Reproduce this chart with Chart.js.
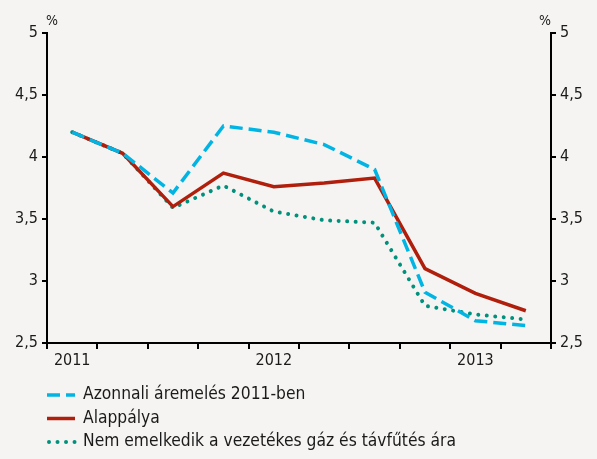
<!DOCTYPE html>
<html>
<head>
<meta charset="utf-8">
<script src="https://cdn.jsdelivr.net/npm/chart.js@4"></script>
<style>
  html, body { margin: 0; padding: 0; background: #f5f4f2; }
  #wrap { width: 597px; height: 459px; }
</style>
</head>
<body>
<div id="wrap"><canvas id="chart" width="597" height="459"></canvas></div>
<script>
// negyedéves adatok 2011 Q1 - 2013 Q2
const quarters = ["2011", "", "", "", "2012", "", "", "", "2013", ""];
const azonnali = [4.2, 4.03, 3.71, 4.25, 4.2, 4.1, 3.9, 2.91, 2.68, 2.64];
const alappalya = [4.2, 4.03, 3.6, 3.87, 3.76, 3.79, 3.83, 3.1, 2.9, 2.76];
const nemEmelkedik = [4.2, 4.03, 3.59, 3.77, 3.56, 3.49, 3.47, 2.8, 2.73, 2.69];
const yTicks = [2.5, 3, 3.5, 4, 4.5, 5];
const seriesNames = [
  "Azonnali áremelés 2011-ben",
  "Alappálya",
  "Nem emelkedik a vezetékes gáz és távfűtés ára"
];

const FONT = "'DejaVu Sans Condensed', 'DejaVu Sans', sans-serif";
const fmt = v => String(v).replace(".", ",");

// jelmagyarázat egymás alatt, a rajzterület alatt
const legendPlugin = {
  id: "stackLegend",
  afterDraw(chart) {
    const ctx = chart.ctx;
    const x0 = 47, y0 = 395, rowH = 23.5;
    ctx.save();
    chart.data.datasets.forEach((ds, i) => {
      const y = y0 + i * rowH;
      ctx.beginPath();
      ctx.strokeStyle = ds.borderColor;
      ctx.lineWidth = ds.borderWidth;
      ctx.lineCap = ds.borderCapStyle || "butt";
      ctx.setLineDash(ds.borderDash || []);
      ctx.moveTo(x0 + (ds.borderCapStyle === "round" ? 2 : 0), y);
      ctx.lineTo(x0 + 28, y);
      ctx.stroke();
      ctx.setLineDash([]);
      ctx.fillStyle = "#1a1a1a";
      ctx.font = "17.3px " + FONT;
      ctx.textBaseline = "middle";
      ctx.fillText(ds.label, x0 + 36, y);
    });
    // % jel a tengelyek fölött
    ctx.font = "14px " + FONT;
    ctx.textAlign = "center";
    ctx.textBaseline = "alphabetic";
    ctx.fillText("%", 52, 25);
    ctx.fillText("%", 545, 25);
    ctx.restore();
  }
};

const yCommon = {
  min: 2.5,
  max: 5,
  afterBuildTicks: s => { s.ticks = yTicks.map(v => ({ value: v })); },
  grid: { display: true, drawOnChartArea: false, drawTicks: true, tickLength: 5, color: "#000", lineWidth: 2 },
  border: { display: true, color: "#000", width: 2 },
  ticks: { color: "#1a1a1a", font: { family: FONT, size: 16 }, padding: 4, callback: v => fmt(v) }
};

new Chart(document.getElementById("chart"), {
  type: "line",
  data: {
    labels: quarters,
    datasets: [
      {
        label: seriesNames[0], data: azonnali,
        borderColor: "#00b4e4", borderWidth: 3.5, borderDash: [13, 6],
        pointRadius: 0, tension: 0, yAxisID: "y"
      },
      {
        label: seriesNames[1], data: alappalya,
        borderColor: "#b01e0c", borderWidth: 3.5,
        pointRadius: 0, tension: 0, yAxisID: "y"
      },
      {
        label: seriesNames[2], data: nemEmelkedik,
        borderColor: "#00917c", borderWidth: 4, borderDash: [0.01, 8.5], borderCapStyle: "round",
        pointRadius: 0, tension: 0, yAxisID: "y"
      }
    ]
  },
  options: {
    responsive: false,
    animation: false,
    layout: { padding: { left: 0, right: 0, top: 33, bottom: 91 } },
    plugins: { legend: { display: false }, tooltip: { enabled: false } },
    scales: {
      x: {
        offset: true,
        grid: { display: true, offset: true, drawOnChartArea: false, tickLength: 6, color: "#000", lineWidth: 2 },
        border: { display: true, color: "#000", width: 2 },
        ticks: { color: "#1a1a1a", font: { family: FONT, size: 16 }, maxRotation: 0, autoSkip: false, padding: 2 },
        afterFit: s => { s.height = 25; }
      },
      y: Object.assign({}, yCommon, { position: "left", afterFit: s => { s.width = 47; } }),
      y2: Object.assign({}, yCommon, { position: "right", afterFit: s => { s.width = 46; } })
    }
  },
  plugins: [legendPlugin]
});
</script>
</body>
</html>
